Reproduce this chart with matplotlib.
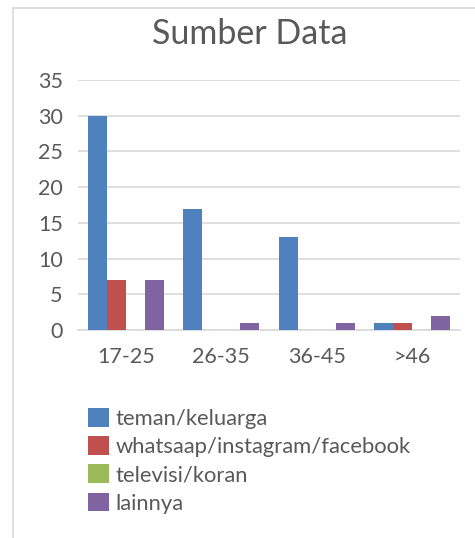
import matplotlib
matplotlib.use("Agg")
import matplotlib.pyplot as plt
import numpy as np
from matplotlib.lines import Line2D

categories = ["17-25", "26-35", "36-45", ">46"]
series_names = ["teman/keluarga", "whatsaap/instagram/facebook", "televisi/koran", "lainnya"]
teman = [30, 17, 13, 1]
whatsapp = [7, 0, 0, 1]
televisi = [0, 0, 0, 0]
lainnya = [7, 1, 1, 2]
values = [teman, whatsapp, televisi, lainnya]
colors = ["#4F81BD", "#C0504D", "#9BBB59", "#8064A2"]
yticks = [0, 5, 10, 15, 20, 25, 30, 35]

plt.rcParams['font.family'] = ['Lato', 'DejaVu Sans']
text_color = "#595959"

fig = plt.figure(figsize=(4.75, 5.38), dpi=100)
ax = fig.add_axes([78/475, 208/538, 382/475, 250/538])

x = np.arange(len(categories))
bw = 0.2
for i, (name, vals, c) in enumerate(zip(series_names, values, colors)):
    ax.bar(x + (i - 1.5) * bw, vals, width=bw, color=c, label=name, zorder=3)

ax.set_xlim(-0.5, len(categories) - 0.5)
ax.set_ylim(0, 35)
ax.set_yticks(yticks)
ax.set_xticks(x)
ax.set_xticklabels(categories)
ax.grid(axis='y', color="#D9D9D9", linewidth=1.2, zorder=0)
for s in ["top", "right", "left"]:
    ax.spines[s].set_visible(False)
ax.spines["bottom"].set_color("#D9D9D9")
ax.spines["bottom"].set_linewidth(1.2)
ax.tick_params(axis='both', length=0, labelsize=15.5, colors=text_color)
ax.tick_params(axis='x', pad=12)
ax.tick_params(axis='y', pad=11)

fig.text(250/475, 1 - 34/538, "Sumber Data", ha='center', va='center',
         fontsize=24.5, color=text_color)

handles, labels = ax.get_legend_handles_labels()
leg = fig.legend(handles, labels, loc='upper left', bbox_to_anchor=(79/475, 1 - 399/538),
                 frameon=False, fontsize=15.8, handlelength=0.95, handleheight=0.95,
                 handletextpad=0.3, labelspacing=0.33, borderaxespad=0)
for t in leg.get_texts():
    t.set_color(text_color)

# chart area border (visible top and left edges)
fig.add_artist(Line2D([13/475, 13/475], [0, 1 - 8/538], transform=fig.transFigure,
                      color="#D9D9D9", linewidth=1.2))
fig.add_artist(Line2D([13/475, 1], [1 - 8/538, 1 - 8/538], transform=fig.transFigure,
                      color="#D9D9D9", linewidth=1.2))

fig.savefig("out.png", dpi=100)
